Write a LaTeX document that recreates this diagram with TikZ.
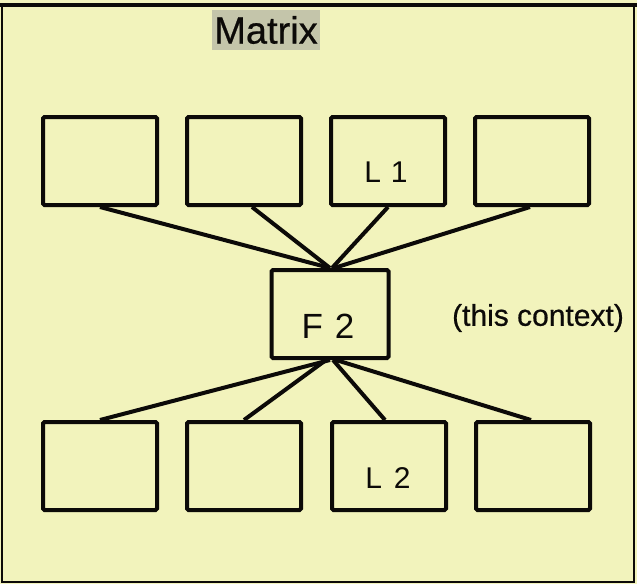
\documentclass[tikz,border=0pt]{standalone}
\usepackage{fontspec}
\setmainfont[FakeBold=0.6]{Liberation Sans}
\newfontfamily\handfont{Liberation Sans}
\definecolor{paper}{RGB}{242,243,188}
\definecolor{titlebg}{RGB}{196,197,170}
\definecolor{ink}{RGB}{12,10,8}
\tikzset{
  cell/.style={draw=ink, line width=4pt, rounded corners=1.5pt, minimum width=114pt, minimum height=88pt, inner sep=0pt},
  hand/.style={font=\handfont\fontsize{30}{30}\selectfont, text=ink},
  link/.style={draw=ink, line width=4pt},
}
\begin{document}
\begin{tikzpicture}[x=1pt,y=-1pt]
  \useasboundingbox (0,0) rectangle (637,584);
  % sheet and its frame
  \fill[paper] (0,0) rectangle (637,584);
  \draw[ink, line width=2pt] (2,5) -- (2,582) -- (634,582) -- (634,5);
  \draw[ink, line width=3.5pt] (0,5) -- (637,5);
  % title
  \node[fill=titlebg, inner xsep=2pt, inner ysep=6pt, font=\fontsize{38}{38}\selectfont, text=ink] (title) at (266,30) {Matrix};
  % upper row
  \node[cell] (a1) at (100,161) {};
  \node[cell] (a2) at (244,161) {};
  \node[cell] (a3) at (388,161) {};
  \node[cell] (a4) at (532,161) {};
  \node[hand] (l1) at (386,172) {L\hspace{10pt}1};
  % centre box
  \node[cell, minimum width=117pt] (f) at (330,314) {};
  \node[hand, font=\handfont\fontsize{35}{35}\selectfont] (f2) at (328,326) {F\hspace{12pt}2};
  % lower row
  \node[cell] (b1) at (100,466) {};
  \node[cell] (b2) at (244,466) {};
  \node[cell] (b3) at (389,466) {};
  \node[cell] (b4) at (533,466) {};
  \node[hand] (l2) at (388,478) {L\hspace{12pt}2};
  % side note
  \node[font=\fontsize{30}{30}\selectfont, text=ink] (ctx) at (538,318) {(this context)};
  % connectors
  \draw[link] (a1.south) -- (f.north);
  \draw[link] ([xshift=8pt]a2.south) -- (f.north);
  \draw[link] (a3.south) -- ([xshift=2pt]f.north);
  \draw[link] ([xshift=-2pt]a4.south) -- ([xshift=4pt]f.north);
  \draw[link] (f.south) -- (b1.north);
  \draw[link] ([xshift=-4pt]f.south) -- (b2.north);
  \draw[link] ([xshift=3pt]f.south) -- ([xshift=-4pt]b3.north);
  \draw[link] ([xshift=6pt]f.south) -- ([xshift=-2pt]b4.north);
\end{tikzpicture}
\end{document}
